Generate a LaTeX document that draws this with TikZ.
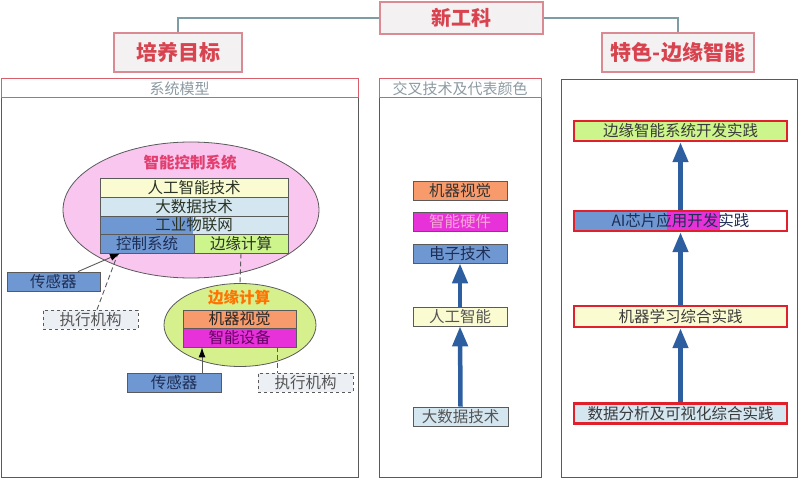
\documentclass[tikz,border=0pt]{standalone}
\usepackage{fontspec}
\setmainfont{Noto Sans CJK SC}
\usetikzlibrary{arrows.meta,calc,shapes.geometric}
\definecolor{tbfill}{HTML}{F3F1F1}
\definecolor{tbdraw}{HTML}{D98A92}
\definecolor{tbtext}{HTML}{D8434F}
\definecolor{conn}{HTML}{7D9CA3}
\definecolor{panel}{HTML}{5A5A5A}
\definecolor{barred}{HTML}{D9606A}
\definecolor{bartext}{HTML}{8C9AA2}
\definecolor{cyellow}{HTML}{FBFBD2}
\definecolor{clblue}{HTML}{D4E6F0}
\definecolor{cblue}{HTML}{6F98D2}
\definecolor{cgreen}{HTML}{CCF58C}
\definecolor{corange}{HTML}{F79B6C}
\definecolor{cmagenta}{HTML}{E632D8}
\definecolor{cpink}{HTML}{F9C6F0}
\definecolor{cegreen}{HTML}{D6F08E}
\definecolor{cexec}{HTML}{ECEFF4}
\definecolor{arrowblue}{HTML}{2D5FA0}
\definecolor{boxred}{HTML}{E0202A}
\definecolor{txt}{HTML}{2A3324}
\definecolor{navy}{HTML}{1E2E55}
\definecolor{greytxt}{HTML}{555555}
\definecolor{pinkred}{HTML}{E23E6E}
\begin{document}
\begin{tikzpicture}[x=1pt,y=-1pt,
  titlebox/.style={draw=tbdraw,fill=tbfill,line width=1.2pt,text=tbtext,
    font=\fontsize{21}{21}\selectfont\bfseries,inner sep=0pt,minimum height=39pt},
  panelbox/.style={draw=panel,line width=1pt,inner sep=0pt,minimum height=398pt},
  barbox/.style={draw=barred,line width=1pt,inner sep=0pt,minimum height=19pt,
    text=bartext,font=\fontsize{15}{15}\selectfont},
  cell/.style={draw=panel,line width=0.8pt,inner sep=0pt,minimum height=19pt,
    text=txt,font=\fontsize{15.5}{16}\selectfont},
  execbox/.style={cell,dashed,fill=cexec,text=greytxt,minimum width=95pt},
  redbox/.style={cell,draw=boxred,line width=2.5pt,minimum width=213pt,minimum height=20pt,text=greytxt!70!black},
  ellbox/.style={ellipse,draw=panel,line width=0.8pt,inner sep=0pt},
  smallarrow/.style={draw=panel,line width=0.9pt,-{Latex[length=10pt,width=7pt,black]}},
  dashlink/.style={draw=panel,line width=0.9pt,dash pattern=on 5pt off 3pt},
  bigarrow/.style={draw=arrowblue,line width=4.5pt,-{Triangle[length=20pt,width=15pt]}},
  link/.style={draw=conn,line width=1.2pt}
]
\useasboundingbox (0,0) rectangle (798,478);

% top level
\node[titlebox,minimum width=163pt,font=\fontsize{20}{20}\selectfont\bfseries,minimum height=32pt] (xgk) at (461.5,18) {新工科};
\node[titlebox,minimum width=128pt] (pymb) at (178,52.5) {培养目标};
\node[titlebox,minimum width=152pt] (tese) at (678,52.5) {特色-边缘智能};
\draw[link] (xgk.west) -| (pymb.north);
\draw[link] (xgk.east) -| (tese.north);

% panels
\node[panelbox,minimum width=357pt] (lp) at (179.5,278) {};
\node[panelbox,minimum width=162pt] (mp) at (460,278) {};
\node[panelbox,minimum width=236pt,minimum height=397pt] (rp) at (679,278.5) {};
\node[barbox,minimum width=357pt] (lb) at (179.5,88.5) {系统模型};
\node[barbox,minimum width=162pt] (mb) at (460,88.5) {交叉技术及代表颜色};

% left panel: intelligent control system
\node[ellbox,fill=cpink,minimum width=256pt,minimum height=136pt] (pe) at (191,210) {};
\node[text=pinkred,font=\fontsize{15.5}{16}\selectfont\bfseries] (pet) at (190,163) {智能控制系统};
\node[cell,fill=cyellow,minimum width=188pt] (c1) at (194,187.5) {人工智能技术};
\node[cell,fill=clblue,minimum width=188pt] (c2) at (194,206.5) {大数据技术};
\node[cell,fill=clblue,minimum width=188pt,minimum height=18pt,
  path picture={\fill[cblue] (path picture bounding box.north west) rectangle ($(path picture bounding box.south west)+(93,0)$);}] (c3) at (194,225) {工业物联网};
\node[cell,fill=cblue,minimum width=94pt,text=navy] (ks) at (147,243.5) {控制系统};
\node[cell,fill=cgreen,minimum width=94pt] (ec) at (241,243.5) {边缘计算};

\node[cell,fill=cblue,minimum width=93pt,text=navy] (s1) at (53.5,281.5) {传感器};
\node[execbox] (ex1) at (90.5,319.5) {执行机构};
\draw[dashlink] ($(ex1.north)+(6.5,0)$) -- ($(ks.south)+(-29,0)$);
\draw[smallarrow] ($(s1.north)+(24.5,0)$) -- ($(ks.south)+(-27,0)$);

% left panel: edge computing
\node[ellbox,fill=cegreen,minimum width=152pt,minimum height=83pt] (ge) at (240,325) {};
\draw[dashlink] (ec.south) -- (ge.north);
\node[text=orange!90!red,font=\fontsize{15.5}{16}\selectfont\bfseries] (get) at (239,298) {边缘计算};
\node[cell,fill=corange,minimum width=113pt,minimum height=18pt,text=black!85] (mv) at (239.5,319) {机器视觉};
\node[cell,fill=cmagenta,minimum width=113pt,text=violet!80!black] (zs) at (239.5,337.5) {智能设备};
\node[cell,fill=cblue,minimum width=94pt,text=navy] (s2) at (174,382.5) {传感器};
\node[execbox] (ex2) at (305.5,382.5) {执行机构};
\coordinate (s2a) at ($(s2.north)+(28,0)$);
\draw[smallarrow] (s2a) -- (s2a |- zs.south);
\coordinate (ex2a) at ($(ex2.north)+(-28.5,0)$);
\draw[dashlink] (ex2a |- zs.south) -- (ex2a);

% middle panel
\node[cell,fill=corange,minimum width=94pt,text=black!80] (m1) at (460,190.5) {机器视觉};
\node[cell,fill=cmagenta,minimum width=94pt,text=magenta!35!white] (m2) at (460,221.5) {智能硬件};
\node[cell,fill=cblue,minimum width=94pt,text=navy] (m3) at (460,253.5) {电子技术};
\node[cell,fill=cyellow,minimum width=94pt,text=greytxt] (m4) at (460,316.5) {人工智能};
\node[cell,fill=clblue,minimum width=95pt,text=greytxt] (m5) at (460.5,416.5) {大数据技术};
\draw[bigarrow] (m5.north) -- (m4.south);
\draw[bigarrow] (m4.north) -- (m3.south);

% right panel
\node[redbox,fill=cgreen] (r1) at (680.5,131) {边缘智能系统开发实践};
\node[redbox,fill=white,text=navy,
  path picture={\fill[cblue] (path picture bounding box.north west) rectangle ($(path picture bounding box.south west)+(93,0)$);
  \fill[cmagenta] ($(path picture bounding box.north west)+(93,0)$) rectangle ($(path picture bounding box.south west)+(146,0)$);}] (r2) at (680.5,221) {AI芯片应用开发实践};
\node[redbox,fill=cyellow,minimum height=21pt] (r3) at (680.5,316.5) {机器学习综合实践};
\node[redbox,fill=clblue] (r4) at (680.5,413.5) {数据分析及可视化综合实践};
\draw[bigarrow] (r4.north) -- (r3.south);
\draw[bigarrow] (r3.north) -- (r2.south);
\draw[bigarrow] (r2.north) -- (r1.south);
\end{tikzpicture}
\end{document}
